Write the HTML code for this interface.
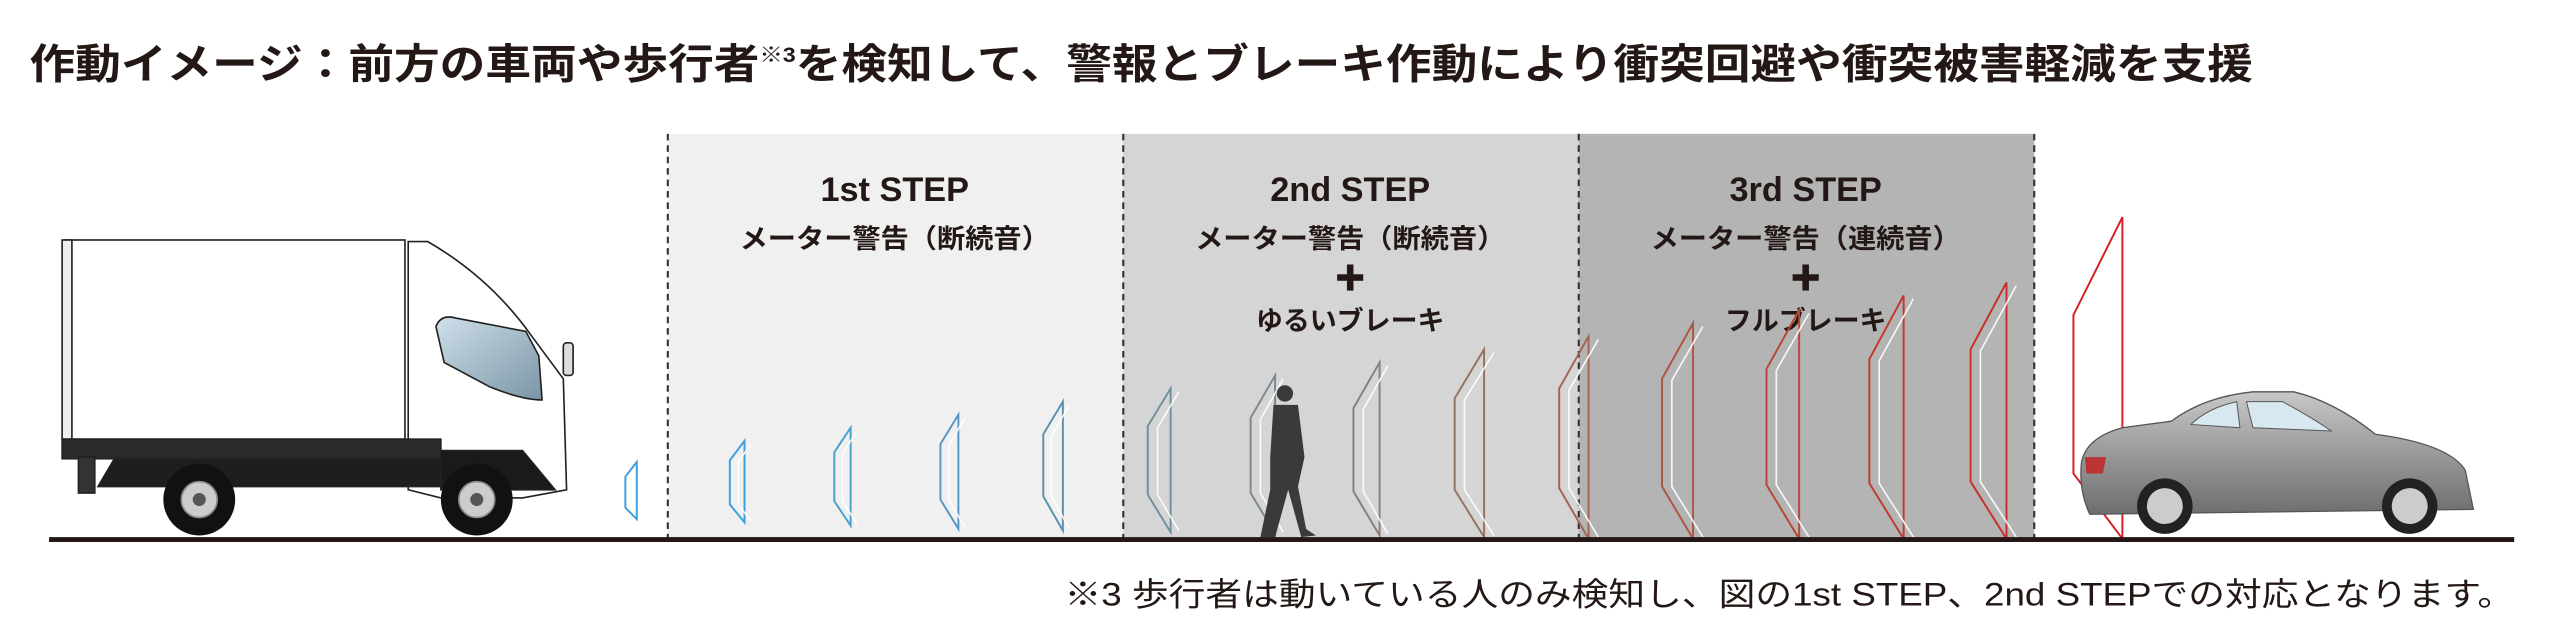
<!DOCTYPE html>
<html><head><meta charset="utf-8"><style>
html,body{margin:0;padding:0;background:#fff;width:2560px;height:638px;overflow:hidden}
svg{display:block}
text{font-family:"Liberation Sans","Noto Sans CJK JP",sans-serif;fill:#231815}
</style></head><body>
<svg width="2560" height="638" viewBox="0 0 1568 390.8" xmlns="http://www.w3.org/2000/svg">
<defs>
<linearGradient id="cg" x1="0" y1="0" x2="0" y2="1"><stop offset="0" stop-color="#c8c8c8"/><stop offset="0.5" stop-color="#9a9a9a"/><stop offset="1" stop-color="#6e6e6e"/></linearGradient>
<linearGradient id="win" x1="0" y1="0" x2="1" y2="1"><stop offset="0" stop-color="#cfe0ea"/><stop offset="1" stop-color="#7a95a5"/></linearGradient>
</defs>
<text x="18" y="48" font-size="25.5" font-weight="bold" textLength="1362" lengthAdjust="spacingAndGlyphs">作動イメージ：前方の車両や歩行者<tspan font-size="13" dy="-10">※3</tspan><tspan dy="10">を検知して、警報とブレーキ作動により衝突回避や衝突被害軽減を支援</tspan></text>
<!-- panels -->
<rect x="409" y="82" width="279" height="248" fill="#f0f0f0"/>
<rect x="688" y="82" width="279" height="248" fill="#d5d5d5"/>
<rect x="967" y="82" width="279" height="248" fill="#b4b4b4"/>
<g stroke="#333" stroke-width="1.3" stroke-dasharray="4,3">
<line x1="409" y1="82" x2="409" y2="330"/><line x1="688" y1="82" x2="688" y2="330"/>
<line x1="967" y1="82" x2="967" y2="330"/><line x1="1246" y1="82" x2="1246" y2="330"/>
</g>
<g text-anchor="middle" font-weight="bold">
<text x="548" y="123" font-size="21">1st STEP</text>
<text x="548" y="152" font-size="16.5" textLength="190" lengthAdjust="spacingAndGlyphs">メーター警告（断続音）</text>
<text x="827" y="123" font-size="21">2nd STEP</text>
<text x="827" y="152" font-size="16.5" textLength="190" lengthAdjust="spacingAndGlyphs">メーター警告（断続音）</text>
<text x="827" y="202" font-size="16.5">ゆるいブレーキ</text>
<text x="1106" y="123" font-size="21">3rd STEP</text>
<text x="1106" y="152" font-size="16.5" textLength="190" lengthAdjust="spacingAndGlyphs">メーター警告（連続音）</text>
<text x="1106" y="202" font-size="16.5">フルブレーキ</text>
</g>
<g fill="#231815"><rect x="825" y="162" width="4" height="16"/><rect x="819" y="168" width="16" height="4"/>
<rect x="1104" y="162" width="4" height="16"/><rect x="1098" y="168" width="16" height="4"/></g>
<!-- waves -->
<g fill="none" stroke-width="1.2">
<path d="M390 283 L383 292 L383 311 L390 318 Z" stroke="#3d9fdc"/>
<path d="M456 270 L447 282 L447 309 L456 320 Z" stroke="#3d9fdc"/>
<path d="M521 262 L511 277 L511 307 L521 322 Z" stroke="#4aa0d0"/>
<path d="M587 254 L576 272 L576 306 L587 324 Z" stroke="#5599c4"/>
<path d="M651 246 L639 266 L639 304 L651 325 Z" stroke="#5c90b0"/>
<path d="M717 238 L703 261 L703 303 L717 326 Z" stroke="#70909e"/>
<path d="M781 230 L766 256 L766 302 L781 327 Z" stroke="#7a8a90"/>
<path d="M845 222 L829 250 L829 301 L845 328 Z" stroke="#8a7f78"/>
<path d="M909 214 L891 244 L891 300 L909 329 Z" stroke="#96725f"/>
<path d="M973 206 L955 238 L955 299 L973 330 Z" stroke="#a26550"/>
<path d="M1037 198 L1018 232 L1018 298 L1037 330 Z" stroke="#ad5642"/>
<path d="M1102 190 L1082 226 L1082 297 L1102 330 Z" stroke="#b84635"/>
<path d="M1166 181 L1145 220 L1145 296 L1166 330 Z" stroke="#c13a2d"/>
<path d="M1229 173 L1207 214 L1207 295 L1229 330 Z" stroke="#c83027"/>
<path d="M1300 133 L1270 193 L1270 290 L1300 330 Z" stroke="#d42025"/>
</g>
<g fill="none" stroke="#fff" stroke-width="1" opacity="0.9">
<path d="M460 272 L452 283 L452 309 L460 319"/><path d="M525 264 L516 278 L516 307 L525 321"/>
<path d="M591 256 L581 273 L581 306 L591 323"/><path d="M655 248 L644 267 L644 304 L655 324"/>
<path d="M722 240 L709 262 L709 303 L722 325"/><path d="M786 232 L772 257 L772 302 L786 326"/>
<path d="M850 224 L835 251 L835 301 L850 327"/><path d="M915 216 L897 245 L897 300 L915 328"/>
<path d="M979 208 L961 239 L961 299 L979 329"/><path d="M1043 200 L1024 233 L1024 298 L1043 329"/>
<path d="M1108 192 L1088 227 L1088 297 L1108 329"/><path d="M1172 183 L1151 221 L1151 296 L1172 329"/>
<path d="M1235 175 L1213 215 L1213 295 L1235 329"/>
</g>
<!-- truck -->
<g stroke="#222" stroke-width="1">
<rect x="40" y="147" width="208" height="122" fill="#fff"/>
<rect x="38" y="147" width="6" height="122" fill="#eee"/>
<path d="M250 148 L262 148 Q300 170 325 205 L345 232 L347 300 L320 305 L270 305 L250 300 Z" fill="#fff"/>
<path d="M267 200 Q270 192 280 195 L322 203 L330 218 L332 245 Q320 245 300 237 L272 222 Z" fill="url(#win)"/>
<rect x="345" y="210" width="6" height="20" rx="2" fill="#ddd"/>
<rect x="38" y="269" width="232" height="12" fill="#2a2a2a"/>
<path d="M70 281 L270 281 L270 298 L60 298 Z" fill="#1e1e1e"/>
<rect x="48" y="280" width="10" height="22" fill="#333"/>
<path d="M270 276 L320 276 L340 300 L270 300 Z" fill="#1a1a1a"/>
</g>
<g fill="#111"><circle cx="122" cy="306" r="22"/><circle cx="292" cy="306" r="22"/></g>
<g fill="#ccc" stroke="#888"><circle cx="122" cy="306" r="11"/><circle cx="292" cy="306" r="11"/></g>
<g fill="#555"><circle cx="122" cy="306" r="4"/><circle cx="292" cy="306" r="4"/></g>
<!-- pedestrian -->
<g fill="#3a3a3a">
<circle cx="787" cy="241" r="5"/>
<path d="M780 248 L795 248 L799 280 L795 298 L800 324 L806 328 L797 329 L789 300 L781 329 L772 329 L778 300 L778 280 Z"/>
</g>
<!-- car -->
<path d="M1275 283 Q1278 268 1300 262 L1330 258 Q1350 243 1380 240 L1405 240 Q1430 246 1455 266 Q1500 272 1510 288 L1515 312 L1280 315 Q1273 300 1275 283 Z" fill="url(#cg)" stroke="#555" stroke-width="0.8"/>
<path d="M1342 260 Q1352 250 1370 246 L1372 262 Z M1376 246 L1398 246 Q1415 255 1428 264 L1380 262 Z" fill="#d8e8f0" stroke="#555" stroke-width="0.6"/>
<path d="M1277 280 L1290 280 L1288 290 L1278 290 Z" fill="#b33"/>
<g fill="#222"><circle cx="1326" cy="310" r="17"/><circle cx="1476" cy="310" r="17"/></g>
<g fill="#ccc"><circle cx="1326" cy="310" r="11"/><circle cx="1476" cy="310" r="11"/></g>
<!-- road -->
<rect x="30" y="329" width="1510" height="3" fill="#231815"/>
<text x="652" y="371" font-size="20" textLength="888" lengthAdjust="spacingAndGlyphs">※3 歩行者は動いている人のみ検知し、図の1st STEP、2nd STEPでの対応となります。</text>
</svg>
</body></html>
